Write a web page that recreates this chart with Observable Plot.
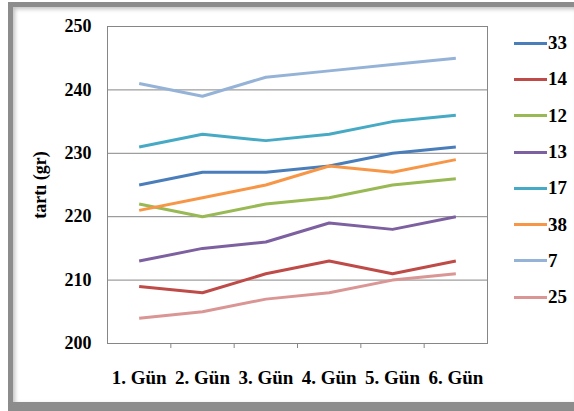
<!DOCTYPE html>
<html>
<head>
<meta charset="utf-8">
<script src="https://cdn.jsdelivr.net/npm/d3@7"></script>
<script src="https://cdn.jsdelivr.net/npm/@observablehq/plot@0.6"></script>
<style>
  html, body { margin: 0; padding: 0; background: #fff; }
  #wrap { position: relative; width: 574px; height: 411px; overflow: hidden; background: #fff; }
  #frame {
    position: absolute; left: 8px; top: 2px; right: -6px; bottom: 0px;
    border: 5px solid #8c8c8c; border-bottom-width: 9px;
    box-shadow: inset 2px 2px 4px rgba(0,0,0,0.25);
    pointer-events: none;
  }
  #legend { position: absolute; left: 514px; top: 25px; font-family: "Liberation Serif", "Times New Roman", serif; font-weight: bold; font-size: 19px; color: #000; }
  .item { display: flex; align-items: center; height: 36.3px; }
  .swatch { width: 33px; height: 3px; margin-right: 1px; }
</style>
</head>
<body>
<div id="wrap"><div id="legend"></div><div id="frame"></div></div>
<script>
// Günlük tartı ölçümleri (gr)
const days = ["1. Gün", "2. Gün", "3. Gün", "4. Gün", "5. Gün", "6. Gün"];
const names = ["33", "14", "12", "13", "17", "38", "7", "25"];
const colors = ["#4a7ebb", "#be4b48", "#98b954", "#7d60a0", "#46aac5", "#f79646", "#95b3d7", "#d99694"];

const w33 = [225, 227, 227, 228, 230, 231];
const w14 = [209, 208, 211, 213, 211, 213];
const w12 = [222, 220, 222, 223, 225, 226];
const w13 = [213, 215, 216, 219, 218, 220];
const w17 = [231, 233, 232, 233, 235, 236];
const w38 = [221, 223, 225, 228, 227, 229];
const w7  = [241, 239, 242, 243, 244, 245];
const w25 = [204, 205, 207, 208, 210, 211];

const yTicks = [200, 210, 220, 230, 240, 250];

const seriesValues = [w33, w14, w12, w13, w17, w38, w7, w25];
const rows = [];
names.forEach((n, s) => seriesValues[s].forEach((v, i) => rows.push({name: n, day: i + 1, value: v})));

// day positions 1..6; category boundaries sit halfway between them
const dayIdx = days.map((d, i) => i + 1);
const between = dayIdx.slice(0, -1).map(i => i + 0.5);

const font = '"Liberation Serif", "Times New Roman", serif';

const chart = Plot.plot({
  width: 574,
  height: 411,
  marginLeft: 107,
  marginRight: 87,
  marginTop: 26,
  marginBottom: 68,
  style: {fontFamily: font, fontWeight: "bold", fontSize: "19px", color: "#000", background: "transparent"},
  x: {domain: [0.5, days.length + 0.5]},
  y: {domain: [200, 250]},
  color: {domain: names, range: colors},
  marks: [
    Plot.gridY(yTicks, {stroke: "#868686", strokeOpacity: 1, strokeWidth: 1}),
    Plot.frame({stroke: "#868686", strokeWidth: 1}),
    Plot.axisY({ticks: yTicks, tickSize: 0, tickPadding: 16, label: "tartı (gr)", labelAnchor: "center", labelArrow: "none", labelOffset: 74, fontSize: 18}),
    Plot.axisX({ticks: dayIdx, tickSize: 0, tickPadding: 27, tickFormat: i => days[i - 1], label: null}),
    Plot.axisX({ticks: between, tickSize: 5, tickFormat: () => "", label: null, stroke: "#868686"}),
    Plot.line(rows, {x: "day", y: "value", z: "name", stroke: "name", strokeWidth: 3, strokeLinecap: "butt"})
  ]
});
document.getElementById("wrap").prepend(chart);
chart.style.position = "absolute";
chart.style.left = "0";
chart.style.top = "0";

// Legend
const leg = document.getElementById("legend");
names.forEach((n, s) => {
  const it = document.createElement("div");
  it.className = "item";
  const sw = document.createElement("div");
  sw.className = "swatch";
  sw.style.background = colors[s];
  const t = document.createElement("span");
  t.textContent = n;
  it.append(sw, t);
  leg.append(it);
});
</script>
</body>
</html>
